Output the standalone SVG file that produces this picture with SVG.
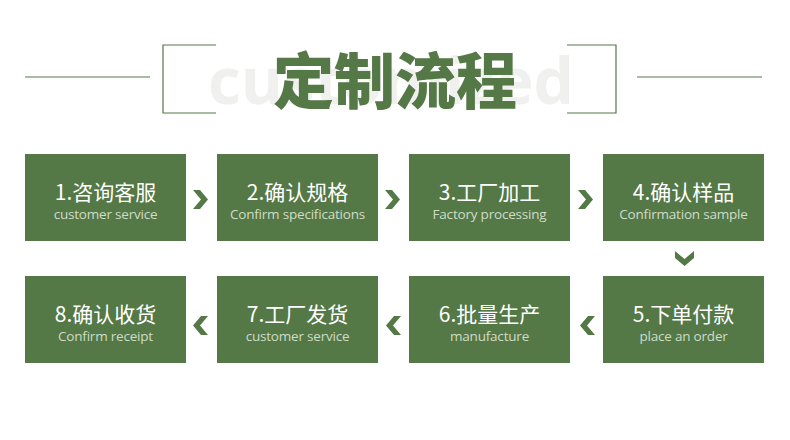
<svg xmlns="http://www.w3.org/2000/svg" width="790" height="440" viewBox="0 0 790 440">
<style>
.box{fill:#547846}
.t{font-family:"Noto Sans CJK SC","Noto Sans",sans-serif;font-size:21px;fill:#ffffff;text-anchor:middle}
.s{font-family:"Open Sans","Noto Sans",sans-serif;font-size:13.5px;fill:#cfdcc6;text-anchor:middle;letter-spacing:-0.2px}
.ln{stroke:#547846;stroke-width:1.2;fill:none}
.ch{fill:#547846}
</style>
<rect width="790" height="440" fill="#ffffff"/>
<g id="title">
<line class="ln" x1="25" y1="77" x2="150" y2="77"/>
<line class="ln" x1="637" y1="77" x2="762" y2="77"/>
<polyline class="ln" points="216,45 163,45 163,113 216,113"/>
<polyline class="ln" points="567,45 616,45 616,113 567,113"/>
<text x="391" y="104" font-family="Open Sans, Noto Sans, sans-serif" font-weight="bold" font-size="64" fill="#f0f1ee" text-anchor="middle">customized</text>
<text x="395" y="104" font-family="Noto Sans CJK SC, sans-serif" font-weight="900" font-size="61" fill="#547846" text-anchor="middle">定制流程</text>
</g>
<g id="n1"><rect class="box" x="25" y="154" width="161" height="87"/><text class="t" x="105.5" y="200">1.咨询客服</text><text class="s" x="105.5" y="219">customer service</text></g>
<g id="n2"><rect class="box" x="217" y="154" width="161" height="87"/><text class="t" x="297.5" y="200">2.确认规格</text><text class="s" x="297.5" y="219">Confirm specifications</text></g>
<g id="n3"><rect class="box" x="409" y="154" width="161" height="87"/><text class="t" x="489.5" y="200">3.工厂加工</text><text class="s" x="489.5" y="219">Factory processing</text></g>
<g id="n4"><rect class="box" x="603" y="154" width="161" height="87"/><text class="t" x="683.5" y="200">4.确认样品</text><text class="s" x="683.5" y="219">Confirmation sample</text></g>
<g id="n5"><rect class="box" x="603" y="276" width="161" height="87"/><text class="t" x="683.5" y="322">5.下单付款</text><text class="s" x="683.5" y="341">place an order</text></g>
<g id="n6"><rect class="box" x="409" y="276" width="161" height="87"/><text class="t" x="489.5" y="322">6.批量生产</text><text class="s" x="489.5" y="341">manufacture</text></g>
<g id="n7"><rect class="box" x="217" y="276" width="161" height="87"/><text class="t" x="297.5" y="322">7.工厂发货</text><text class="s" x="297.5" y="341">customer service</text></g>
<g id="n8"><rect class="box" x="25" y="276" width="161" height="87"/><text class="t" x="105.5" y="322">8.确认收货</text><text class="s" x="105.5" y="341">Confirm receipt</text></g>
<g id="connectors">
<polygon class="ch" points="193,190 200,190 208,199.5 200,209 193,209 201,199.5"/>
<polygon class="ch" points="385,190 392,190 400,199.5 392,209 385,209 393,199.5"/>
<polygon class="ch" points="578,190 585,190 593,199.5 585,209 578,209 586,199.5"/>
<polygon class="ch" points="675,251 675,258 684.5,266 694,258 694,251 684.5,259"/>
<polygon class="ch" points="595,316 588,316 580,325.5 588,335 595,335 587,325.5"/>
<polygon class="ch" points="401,316 394,316 386,325.5 394,335 401,335 393,325.5"/>
<polygon class="ch" points="208,316 201,316 193,325.5 201,335 208,335 200,325.5"/>
</g>
</svg>
